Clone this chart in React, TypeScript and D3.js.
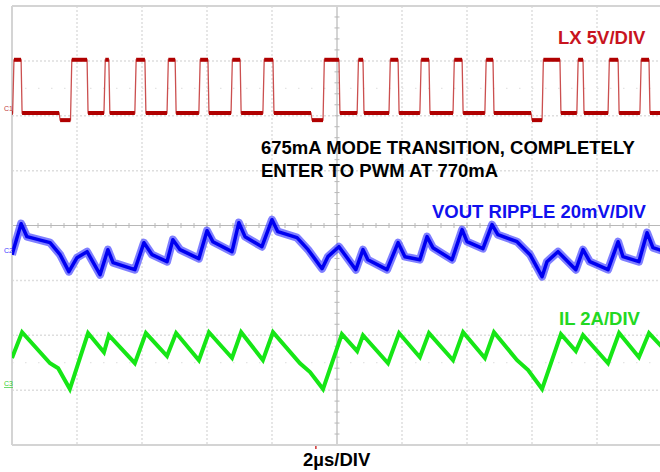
import React from "react";
import * as d3 from "d3";

// ---- data (time in µs, 2 µs/div, 10 divisions) ----
// LX switch node: rising / falling edge times (µs), undershoot dips before some rises
const lxRise = [0.02, 1.8, 2.83, 3.78, 4.77, 5.75, 6.74, 7.72, 9.57, 10.62, 11.6, 12.55, 13.57, 14.55, 16.31, 17.38, 18.34, 19.32];
const lxFall = [0.28, 2.31, 2.98, 4.09, 5.02, 6.03, 7.02, 8.03, 10.06, 10.8, 11.88, 12.83, 13.85, 14.8, 16.86, 17.57, 18.65, 19.6];
const lxDipStart = [1.45, 9.2, 15.97];
const lxDipEnd = [1.78, 9.51, 16.28];
const lxLevels = { high: 5.1, low: 0.25, dip: -0.4 }; // volts

// VOUT ripple (mV, AC coupled)
const rippleT = [0, 0.28, 0.46, 1.17, 1.48, 1.75, 2.0, 2.31, 2.71, 2.95, 3.11, 3.78, 4.06, 4.31, 4.77, 4.95, 5.17, 5.75, 6.0, 6.18, 6.77, 6.98, 7.17, 7.69, 8.0, 8.18, 8.77, 9.11, 9.54, 9.72, 10.06, 10.58, 10.8, 10.95, 11.54, 11.88, 12.09, 12.55, 12.77, 12.95, 13.54, 13.85, 14.0, 14.49, 14.77, 14.95, 15.54, 15.94, 16.31, 16.46, 16.8, 17.35, 17.57, 17.78, 18.34, 18.65, 18.8, 19.29, 19.54, 19.72, 20.0];
const rippleMv = [0.36, 11.66, 6.93, 4.74, 0.36, -5.83, -0.73, 1.46, -6.93, 2.19, -2.55, -5.1, 4.74, 0.36, -2.19, 5.83, 2.19, -1.09, 9.11, 5.1, 1.46, 12.03, 6.93, 3.28, 13.12, 8.75, 6.56, 2.19, -4.74, -0.36, 3.28, -5.1, 2.19, -1.46, -5.1, 4.74, -0.36, -1.46, 6.93, 2.92, -1.46, 9.48, 5.1, 2.55, 11.3, 7.65, 5.1, 0.36, -7.65, -2.19, 1.46, -5.1, 2.19, -2.19, -5.1, 5.1, -0.36, -2.19, 8.38, 2.92, 1.82];

// Inductor current (A)
const ilT = [0, 0.31, 1.17, 1.42, 1.78, 2.34, 2.83, 2.98, 3.78, 4.12, 4.77, 5.05, 5.75, 6.06, 6.77, 7.05, 7.72, 8.03, 8.86, 9.17, 9.57, 10.15, 10.62, 10.8, 11.57, 11.91, 12.55, 12.83, 13.57, 13.88, 14.55, 14.83, 15.54, 15.88, 16.31, 16.89, 17.35, 17.57, 18.34, 18.68, 19.29, 19.6, 20.0];
const ilA = [1.17, 2.11, 0.98, 0.8, 0.04, 2.08, 1.38, 2.0, 0.98, 2.08, 1.24, 2.08, 1.09, 2.11, 1.17, 2.11, 1.09, 2.11, 0.98, 0.66, 0.04, 2.04, 1.42, 2.0, 0.98, 2.08, 1.2, 2.08, 1.09, 2.11, 1.17, 2.11, 1.09, 0.73, 0.04, 2.04, 1.42, 2.0, 0.98, 2.08, 1.2, 2.08, 1.57];

// channel settings: volts per div and ground offset (div)
const ch1 = { perDiv: 5, offset: 2.0 };
const ch2 = { perDiv: 20, offset: -0.55 };
const ch3 = { perDiv: 2, offset: -3.0 };

const labels = {
  lx: "LX 5V/DIV",
  note1: "675mA MODE TRANSITION, COMPLETELY",
  note2: "ENTER TO PWM AT 770mA",
  vout: "VOUT RIPPLE 20mV/DIV",
  il: "IL 2A/DIV",
  time: "2µs/DIV",
};

const W = 660;
const H = 472;
const L = 12, R = 662, T = 6, B = 445;

export default function App() {
  const x = d3.scaleLinear().domain([0, 20]).range([L, R]);
  const y = d3.scaleLinear().domain([-4, 4]).range([B, T]);

  const line = d3.line<[number, number]>().x((d) => x(d[0])).y((d) => y(d[1]));

  // LX points in volts
  const lxPts: [number, number][] = [[0, lxLevels.low]];
  lxRise.forEach((r, i) => {
    const f = lxFall[i];
    const di = lxDipEnd.findIndex((e) => Math.abs(e - r) < 0.1);
    if (di >= 0) {
      lxPts.push([lxDipStart[di], lxLevels.low], [lxDipStart[di] + 0.03, lxLevels.dip], [r, lxLevels.dip]);
    } else {
      lxPts.push([r, lxLevels.low]);
    }
    lxPts.push([r + 0.04, lxLevels.high], [f, lxLevels.high], [f + 0.03, lxLevels.low]);
  });
  lxPts.push([20, lxLevels.low]);
  const lxDiv: [number, number][] = lxPts.map((p) => [p[0], p[1] / ch1.perDiv + ch1.offset]);
  const flatSegs: [number, number][][] = [];
  for (let i = 0; i < lxDiv.length - 1; i++) {
    if (lxDiv[i][1] === lxDiv[i + 1][1]) flatSegs.push([lxDiv[i], lxDiv[i + 1]]);
  }

  const ripDiv: [number, number][] = rippleT.map((t, i) => [t, rippleMv[i] / ch2.perDiv + ch2.offset]);
  const ilDiv: [number, number][] = ilT.map((t, i) => [t, ilA[i] / ch3.perDiv + ch3.offset]);

  const xDivs = d3.range(1, 10).filter((d) => d !== 5);
  const yDivs = d3.range(-3, 4).filter((d) => d !== 0);
  const xMinor = d3.range(0, 20.001, 0.4);
  const yMinor = d3.range(-4, 4.001, 0.2);

  const grid = "#dedede";
  const font = "'Liberation Sans', Arial, sans-serif";

  return (
    <svg width={W} height={H} style={{ position: "absolute", left: 0, top: 0, background: "#fff" }}>
      <defs>
        <clipPath id="plot">
          <rect x={L} y={T} width={R - L} height={B - T} />
        </clipPath>
      </defs>
      {/* grid */}
      {xDivs.map((d) => (
        <line key={"gx" + d} x1={x(d * 2)} x2={x(d * 2)} y1={T} y2={B} stroke={grid} strokeWidth={1.5} strokeDasharray="2,2" />
      ))}
      {yDivs.map((d) => (
        <line key={"gy" + d} x1={L} x2={R} y1={y(d)} y2={y(d)} stroke={grid} strokeWidth={1.5} strokeDasharray="2,2" />
      ))}
      {[2.5, -2.5].map((d) => (
        <line key={"gh" + d} x1={L} x2={R} y1={y(d)} y2={y(d)} stroke="#e4e4e4" strokeWidth={1.2} strokeDasharray="1.5,11.5" />
      ))}
      {/* center axes */}
      <line x1={L} x2={R} y1={y(0)} y2={y(0)} stroke="#b8b8b8" strokeWidth={1.2} />
      <line x1={x(10)} x2={x(10)} y1={T} y2={B} stroke="#b8b8b8" strokeWidth={1.2} />
      {xMinor.map((t, i) => (
        <line key={"tx" + i} x1={x(t)} x2={x(t)} y1={y(0) - 2.5} y2={y(0) + 2.5} stroke="#b8b8b8" strokeWidth={1} />
      ))}
      {yMinor.map((v, i) => (
        <line key={"ty" + i} x1={x(10) - 2.5} x2={x(10) + 2.5} y1={y(v)} y2={y(v)} stroke="#b8b8b8" strokeWidth={1} />
      ))}
      {/* border */}
      <line x1={L} x2={R} y1={T} y2={T} stroke="#d4d4d4" strokeWidth={2} />
      <line x1={L} x2={R} y1={B} y2={B} stroke="#d4d4d4" strokeWidth={2} />
      <line x1={L} x2={L} y1={T} y2={B} stroke="#d4d4d4" strokeWidth={2} />

      <g clipPath="url(#plot)">
        {/* LX */}
        <path d={line(lxDiv) || ""} fill="none" stroke="#c23030" strokeWidth={1.3} strokeOpacity={0.85} />
        {flatSegs.map((s, i) => (
          <path key={"lx" + i} d={line(s) || ""} fill="none" stroke="#b00000" strokeWidth={4} />
        ))}
        {/* VOUT ripple */}
        <path d={line(ripDiv) || ""} fill="none" stroke="#2a2aff" strokeWidth={8} strokeLinejoin="round" strokeOpacity={0.6} />
        <path d={line(ripDiv) || ""} fill="none" stroke="#0000f0" strokeWidth={3.5} strokeLinejoin="round" />
        {/* IL */}
        <path d={line(ilDiv) || ""} fill="none" stroke="#16e616" strokeWidth={4} strokeLinejoin="miter" />
      </g>

      {/* channel markers */}
      <text x={4} y={111} fontSize={7} fill="#c04040" fontFamily={font}>C1</text>
      <text x={4} y={253} fontSize={7} fill="#4040ff" fontFamily={font}>C2</text>
      <text x={4} y={386} fontSize={7} fill="#30d030" fontFamily={font} textDecoration="underline">C3</text>
      <line x1={x(9.35)} x2={x(9.35)} y1={446} y2={449} stroke="#d03030" strokeWidth={1.5} />

      {/* labels */}
      <g fontFamily={font} fontWeight="bold" fontSize={18.5}>
        <text x={558} y={44} fill="#c8141e">{labels.lx}</text>
        <text x={261} y={154} fill="#000">{labels.note1}</text>
        <text x={261} y={177} fill="#000">{labels.note2}</text>
        <text x={432} y={218} fill="#1010ee">{labels.vout}</text>
        <text x={559} y={325} fill="#22d822">{labels.il}</text>
        <text x={303} y={466} fill="#000">{labels.time}</text>
      </g>
    </svg>
  );
}
